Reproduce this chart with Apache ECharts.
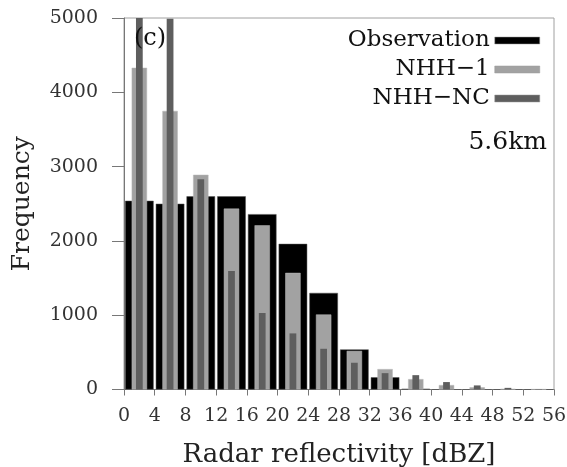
<!DOCTYPE html>
<html>
<head>
<meta charset="utf-8">
<script src="https://cdn.jsdelivr.net/npm/echarts@6/dist/echarts.min.js"></script>
<style>
  html, body { margin: 0; padding: 0; background: #fff; }
  #chart { width: 567px; height: 467px; }
</style>
</head>
<body>
<div id="chart"></div>
<script>
// Reflectivity bins (dBZ), 4 dBZ wide
const bins = ['0-4', '4-8', '8-12', '12-16', '16-20', '20-24', '24-28',
              '28-32', '32-36', '36-40', '40-44', '44-48', '48-52', '52-56'];
// Frequency counts per bin at 5.6 km
const observation = [2540, 2500, 2600, 2600, 2360, 1960, 1300, 540, 165, 8, 0, 0, 0, 0];
const nhh1        = [4330, 3750, 2890, 2435, 2210, 1570, 1010, 520, 275, 140, 60, 30, 8, 3];
const nhhNC       = [5300, 4990, 2830, 1595, 1030, 755, 548, 360, 220, 193, 100, 55, 22, 5];
// Axis ticks
const xTicks = [0, 4, 8, 12, 16, 20, 24, 28, 32, 36, 40, 44, 48, 52, 56];
const yTicks = [0, 1000, 2000, 3000, 4000, 5000];

const FONT = 'DejaVu Serif';
const chart = echarts.init(document.getElementById('chart'), null, { renderer: 'canvas' });

// Overlaid category axes so that each series' bar is centred in its bin
const hiddenCat = () => ({
  type: 'category', gridIndex: 0, data: bins, boundaryGap: true, show: false
});

chart.setOption({
  animation: false,
  backgroundColor: '#fff',
  grid: {
    left: 124, right: 13, top: 18, bottom: 77.5,
    containLabel: false, outerBoundsMode: 'none',
    show: true, borderColor: '#a0a0a0', borderWidth: 1
  },
  legend: {
    orient: 'vertical', right: 22, top: 24, align: 'right',
    itemWidth: 45, itemHeight: 7, itemGap: 6,
    icon: 'rect',
    itemStyle: { borderColor: '#999', borderWidth: 0.5 },
    textStyle: { fontFamily: FONT, fontSize: 23, lineHeight: 23, color: '#111' },
    data: ['Observation', 'NHH\u22121', 'NHH\u2212NC']
  },
  xAxis: [
    {
      type: 'value', min: xTicks[0], max: xTicks[xTicks.length - 1], interval: 4,
      axisLine: { show: true, lineStyle: { color: '#777', width: 1 } },
      axisTick: { show: true, inside: false, length: 6, lineStyle: { color: '#777' } },
      splitLine: { show: false },
      axisLabel: { fontFamily: FONT, fontSize: 19, color: '#333', margin: 17 },
      name: 'Radar reflectivity [dBZ]', nameLocation: 'middle', nameGap: 53,
      nameTextStyle: { fontFamily: FONT, fontSize: 26, color: '#222' }
    },
    hiddenCat(), hiddenCat(), hiddenCat()
  ],
  yAxis: {
    type: 'value', min: yTicks[0], max: yTicks[yTicks.length - 1], interval: 1000,
    axisLine: { show: true, lineStyle: { color: '#777', width: 1 } },
    axisTick: { show: true, inside: false, length: 12, lineStyle: { color: '#777' } },
    splitLine: { show: false },
    axisLabel: {
      fontFamily: FONT, fontSize: 19, color: '#333', margin: 26,
      formatter: v => String(v)
    },
    name: 'Frequency', nameLocation: 'middle', nameGap: 89, nameRotate: 90,
    nameTextStyle: { fontFamily: FONT, fontSize: 25, color: '#222' }
  },
  series: [
    {
      name: 'Observation', type: 'bar', xAxisIndex: 1, data: observation,
      barWidth: '93%', clip: true,
      itemStyle: { color: '#000', borderColor: '#555', borderWidth: 0.5 }
    },
    {
      name: 'NHH\u22121', type: 'bar', xAxisIndex: 2, data: nhh1,
      barWidth: '50%', clip: true,
      itemStyle: { color: '#a2a2a2', borderColor: '#b8b8b8', borderWidth: 0.5 }
    },
    {
      name: 'NHH\u2212NC', type: 'bar', xAxisIndex: 3, data: nhhNC,
      barWidth: '22%', clip: true,
      itemStyle: { color: '#5e5e5e' }
    }
  ],
  graphic: [
    {
      type: 'text', left: 134, top: 27, z: 100,
      style: { text: '(c)', font: '24px "DejaVu Serif"', fill: '#111' }
    },
    {
      type: 'text', right: 20, top: 130, z: 100,
      style: { text: '5.6km', font: '25px "DejaVu Serif"', fill: '#111' }
    }
  ]
});
</script>
</body>
</html>
